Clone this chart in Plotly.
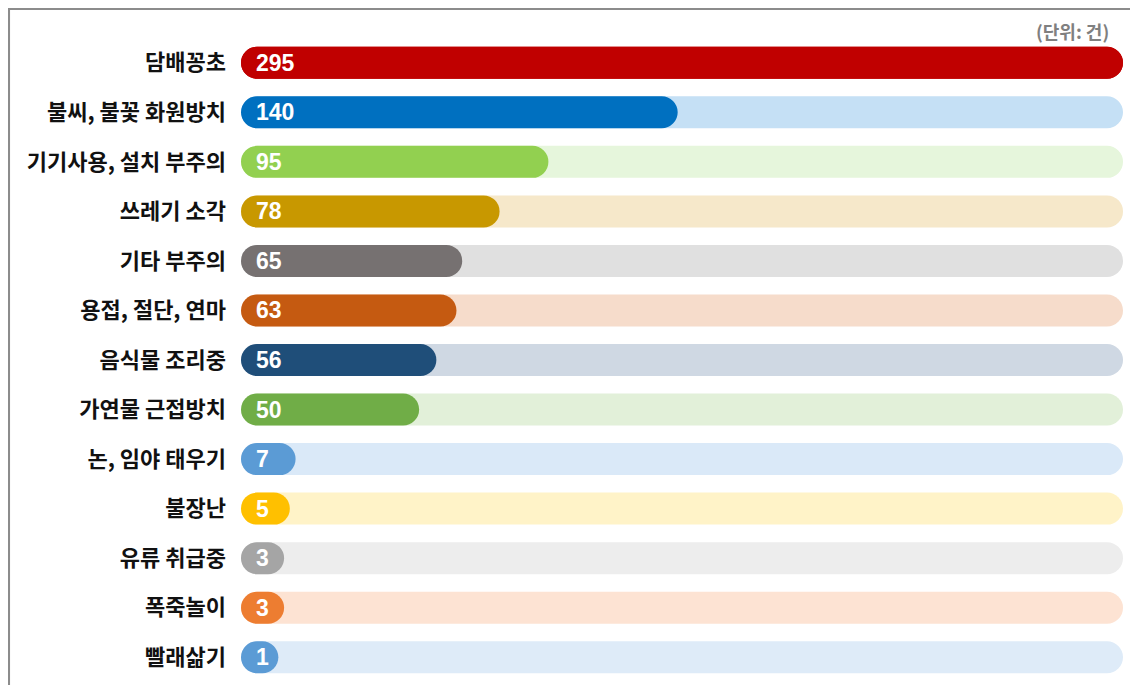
import plotly.graph_objects as go

categories = ["담배꽁초", "불씨, 불꽃 화원방치", "기기사용, 설치 부주의", "쓰레기 소각", "기타 부주의",
              "용접, 절단, 연마", "음식물 조리중", "가연물 근접방치", "논, 임야 태우기", "불장난",
              "유류 취급중", "폭죽놀이", "빨래삶기"]
values = [295, 140, 95, 78, 65, 63, 56, 50, 7, 5, 3, 3, 1]
bar_colors = ["#C00000", "#0070C0", "#92D050", "#C89800", "#767171", "#C55A11", "#1F4E79",
              "#70AD47", "#5B9BD5", "#FFC000", "#A5A5A5", "#ED7D31", "#5B9BD5"]
track_colors = ["#C00000", "#C5E0F5", "#E6F6DC", "#F6E8CA", "#E0E0E0", "#F6DCCB", "#CFD8E3",
                "#E2F0D9", "#DAE9F8", "#FFF3C8", "#EDEDED", "#FDE3D3", "#DEEBF8"]
unit_label = "(단위: 건)"

CAP = 12  # visual offset so that tiny values still show as a rounded pill
vmax = max(values)

# figure is placed 8px in from the page corner (default body margin)
W, H = 1130, 677
L, R, T, B = 233, 15, 30, 3.25
plot_w = W - L - R
plot_h = H - T - B


def px_x(fig_px):
    return (fig_px - L) / plot_w


def px_y(fig_py):
    return (H - B - fig_py) / plot_h


fig = go.Figure()
# background tracks
fig.add_trace(go.Bar(
    y=categories, x=[vmax + CAP] * len(values), base=[-CAP] * len(values),
    orientation="h", marker=dict(color=track_colors, line=dict(width=0)),
    hoverinfo="skip", showlegend=False,
))
# value bars
fig.add_trace(go.Bar(
    y=categories, x=[v + CAP for v in values], base=[-CAP] * len(values),
    orientation="h", marker=dict(color=bar_colors, line=dict(width=0)),
    customdata=values, hovertemplate="%{y}: %{customdata}건<extra></extra>",
    showlegend=False,
))

# value labels inside bars at their left end
for c, v in zip(categories, values):
    fig.add_annotation(x=-CAP, y=c, xref="x", yref="y", text=str(v), showarrow=False,
                       xanchor="left", xshift=13, yshift=0,
                       font=dict(family="Liberation Sans, Arial", size=23, color="white", weight=700))

fig.add_annotation(x=px_x(1111 - 8), y=px_y(31.5 - 8),
                   xref="paper", yref="paper", text=unit_label, showarrow=False,
                   xanchor="right", yanchor="middle",
                   font=dict(family="Noto Sans CJK KR", size=18, color="#808080", weight=700))

# outer frame
fig.add_shape(type="rect", xref="paper", yref="paper",
              x0=px_x(0.8), x1=px_x(1135 - 8),
              y0=px_y(H + 10), y1=px_y(0.8),
              line=dict(color="#8C8C8C", width=2.5), fillcolor="rgba(0,0,0,0)", layer="below")

fig.update_layout(
    width=W, height=H,
    margin=dict(l=L, r=R, t=T, b=B),
    barmode="overlay", bargap=0.354, barcornerradius=16,
    plot_bgcolor="white", paper_bgcolor="white",
    xaxis=dict(range=[-CAP, vmax], visible=False, fixedrange=True),
    yaxis=dict(range=[len(categories) - 0.5, -0.5], showgrid=False, zeroline=False,
               showline=False, ticks="", ticklabelstandoff=14,
               tickfont=dict(family="Noto Sans CJK KR", size=22, color="#111111", weight=700)),
)

fig.write_html("out.html")
